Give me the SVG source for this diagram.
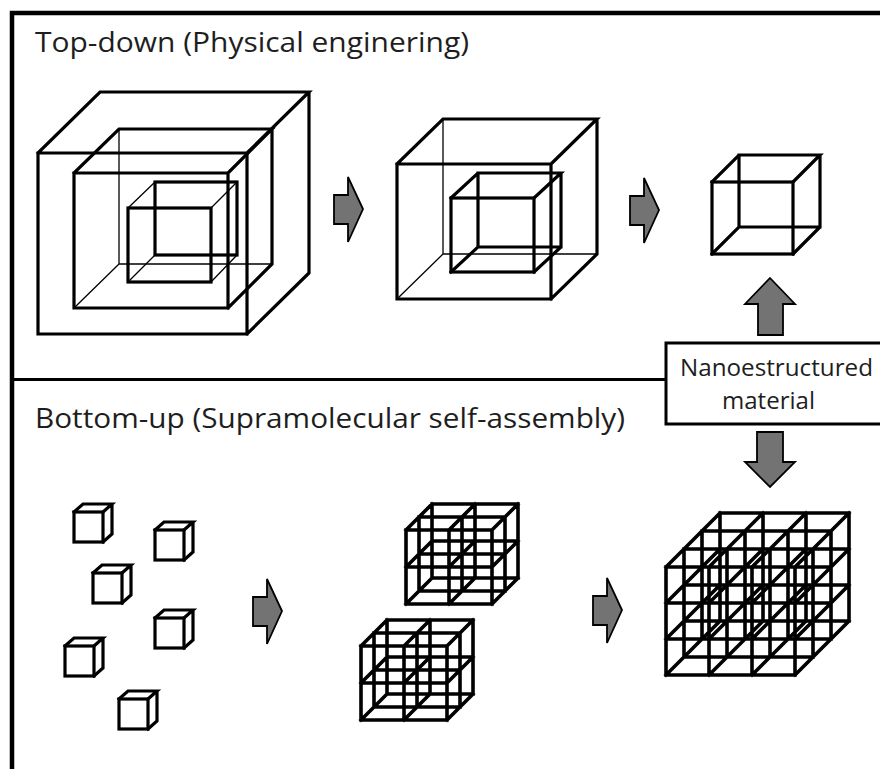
<svg xmlns="http://www.w3.org/2000/svg" xmlns:xlink="http://www.w3.org/1999/xlink" width="880" height="769" viewBox="0 0 880 769">
<style>
.thick{fill:none;stroke:#000;stroke-width:3.2;stroke-linejoin:miter;stroke-linecap:square}
.thin{fill:none;stroke:#000;stroke-width:1.3}
.grid{fill:none;stroke:#000;stroke-width:3.6;stroke-linecap:square}
.arrow{fill:#737373;stroke:#000;stroke-width:1.8;stroke-linejoin:miter}
.title{font-family:"Open Sans","Noto Sans","Liberation Sans",sans-serif;font-size:28px;fill:#1e1e1e}
.label{font-family:"Open Sans","Noto Sans","Liberation Sans",sans-serif;font-size:23px;fill:#1e1e1e}
.frame{fill:none;stroke:#000;stroke-width:4.5}
</style>
<defs>
<g id="smallcube">
<rect x="0" y="0" width="29" height="30" class="thick"/>
<path d="M0 0l9-8h29l-9 8M29 30l9-8V-8" class="thick"/>
</g>
<path id="rarrow" d="M0 18H14V0L29 32L14 65V47H0Z" class="arrow"/>
</defs>
<rect width="880" height="769" fill="#fff"/>

<g id="frame">
<path d="M12 769V13H880" class="frame"/>
<path d="M12 379.5H666" stroke="#000" stroke-width="3" fill="none"/>
</g>

<g id="title-top"><text x="35" y="52" class="title" textLength="434" lengthAdjust="spacingAndGlyphs">Top-down (Physical enginering)</text></g>
<g id="title-bottom"><text x="35" y="428" class="title" textLength="590" lengthAdjust="spacingAndGlyphs">Bottom-up (Supramolecular self-assembly)</text></g>

<g id="cube-large">
<path d="M38 153H247V334H38Z M38 153L100 92H309L247 153 M309 92V273L247 334" class="thick"/>
<path d="M74 173H228V308H74Z M74 173L119 129H272L228 173 M272 129V264L228 308" class="thick"/>
<path d="M119 129V264H272 M74 308L119 264" class="thin"/>
<rect x="128" y="208" width="83" height="74" class="thick"/>
<rect x="155" y="182" width="82" height="73" class="thick"/>
<path d="M128 208L155 182M211 208L237 182M128 282L155 255M211 282L237 255" class="thin"/>
</g>

<g id="cube-medium">
<path d="M397 164H551V299H397Z M397 164L443 119H597L551 164 M597 119V254L551 299" class="thick"/>
<path d="M443 119V254H597 M397 299L443 254" class="thin"/>
<rect x="451" y="198" width="83" height="74" class="thick"/>
<path d="M451 198L478 173H561L534 198 M561 173V247L534 272 M478 173V247H561 M451 272L478 247" class="thick"/>
</g>

<g id="cube-small-top">
<rect x="712" y="182" width="81" height="72" class="thick"/>
<path d="M712 182L739 155H820L793 182 M820 155V227L793 254 M739 155V227H820 M712 254L739 227" class="thick"/>
</g>

<g id="label-box">
<path d="M890 343H666V424H890" fill="#fff" stroke="#000" stroke-width="3"/>
<text x="680" y="376" class="label" textLength="193" lengthAdjust="spacingAndGlyphs">Nanoestructured</text>
<text x="722" y="409" class="label" textLength="93" lengthAdjust="spacingAndGlyphs">material</text>
</g>

<g id="molecules">
<use xlink:href="#smallcube" x="74" y="512"/>
<use xlink:href="#smallcube" x="155" y="530"/>
<use xlink:href="#smallcube" x="93" y="573"/>
<use xlink:href="#smallcube" x="155" y="618"/>
<use xlink:href="#smallcube" x="65" y="646"/>
<use xlink:href="#smallcube" x="119" y="699"/>
</g>

<g id="grid-upper">
<path class="grid" d="M406 530H492M406 567H492M406 604H492M419 517H505M419 554H505M419 591H505M432 504H518M432 541H518M432 578H518
M406 530V604M449 530V604M492 530V604M419 517V591M462 517V591M505 517V591M432 504V578M475 504V578M518 504V578
M406 530l26-26M449 530l26-26M492 530l26-26M406 567l26-26M449 567l26-26M492 567l26-26M406 604l26-26M449 604l26-26M492 604l26-26"/>
</g>

<g id="grid-lower">
<path class="grid" d="M361 646H447M361 683H447M361 720H447M374 633H460M374 670H460M374 707H460M387 620H473M387 657H473M387 694H473
M361 646V720M404 646V720M447 646V720M374 633V707M417 633V707M460 633V707M387 620V694M430 620V694M473 620V694
M361 646l26-26M404 646l26-26M447 646l26-26M361 683l26-26M404 683l26-26M447 683l26-26M361 720l26-26M404 720l26-26M447 720l26-26"/>
</g>

<g id="grid-large">
<path class="grid" d="M666 567H795M666 603H795M666 639H795M666 675H795
M684 549H813M684 585H813M684 621H813M684 657H813
M702 531H831M702 567H831M702 603H831M702 639H831
M720 513H849M720 549H849M720 585H849M720 621H849
M666 567V675M709 567V675M752 567V675M795 567V675
M684 549V657M727 549V657M770 549V657M813 549V657
M702 531V639M745 531V639M788 531V639M831 531V639
M720 513V621M763 513V621M806 513V621M849 513V621
M666 567l54-54M709 567l54-54M752 567l54-54M795 567l54-54
M666 603l54-54M709 603l54-54M752 603l54-54M795 603l54-54
M666 639l54-54M709 639l54-54M752 639l54-54M795 639l54-54
M666 675l54-54M709 675l54-54M752 675l54-54M795 675l54-54"/>
</g>

<g id="connectors">
<use xlink:href="#rarrow" x="334" y="177"/>
<use xlink:href="#rarrow" x="630" y="178"/>
<use xlink:href="#rarrow" x="253" y="579"/>
<use xlink:href="#rarrow" x="593" y="578"/>
<path d="M770 278L795 304H783V335H758V304H745Z" class="arrow"/>
<path d="M757 432H783V462H795L770 487L745 462H757Z" class="arrow"/>
</g>
</svg>
